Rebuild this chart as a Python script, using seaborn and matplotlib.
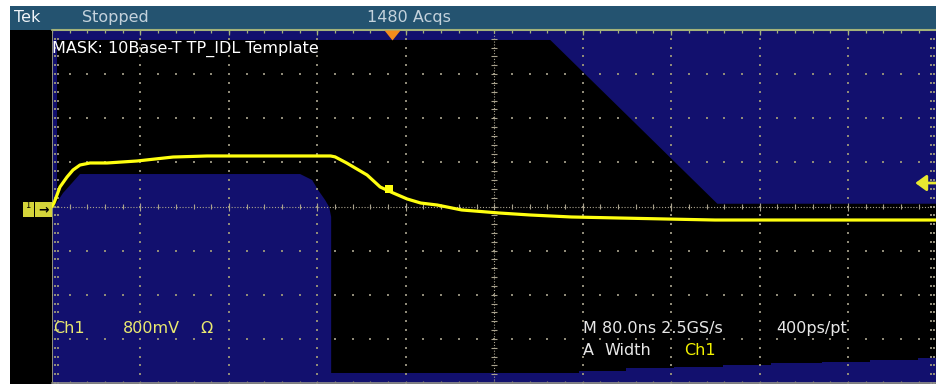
import numpy as np
import matplotlib
matplotlib.use('Agg')
import matplotlib.pyplot as plt
import seaborn as sns
from matplotlib.patches import Rectangle

sns.set_theme(style='dark', rc={'axes.facecolor': 'black', 'figure.facecolor': 'white'})
plt.rcParams['font.family'] = ['DejaVu Sans']

#############################################################
# values
# time in ns from the left edge of the graticule, level in mV
trace_t = [0, 1.8, 4.5, 7.2, 13.6, 19, 25.3, 34.4, 49.8, 76.9, 109.5, 140.3, 252, 256,
           266.5, 285, 296.8, 308.6, 321.3, 333.5, 348.4, 370.6, 404.5, 432.6, 469.7,
           514, 556.3, 599.6, 800]
trace_mv = [0, 63, 208, 354, 535, 662, 752, 789, 789, 825, 897, 916, 916, 900,
            789, 571, 354, 245, 136, 63, 27, -63, -118, -154, -190,
            -209, -227, -245, -245]

# TP_IDL template (mask) outlines
top_mask_t = [0, 800, 800, 601.8, 450.7, 4.5, 4.5, 0]
top_mask_mv = [3200, 3200, 50, 50, 3019, 3019, 110, 40]
low_mask_t = [0, 0, 2.7, 10, 18.1, 25.3, 224.4, 235.3, 240.7, 247, 250.7, 252.5, 252.5]
low_mask_mv = [-3200, 0, 27, 245, 426, 589, 589, 480, 299, 118, -9, -190, -3200]
band_t = [252.5, 477, 519.5, 563, 607, 650.7, 696, 739.5, 783.7, 800]
band_mv = [-3010, -2977, -2933, -2904, -2874, -2843, -2814, -2783, -2752, -2752]

# trigger position / level and the small marker on the edge
trig_t = 307.5
trig_mv = 426
tab_t = [305]
tab_mv = [320]

# screen texts
status = ['Tek', 'Stopped', '1480 Acqs']
mask_title = 'MASK: 10Base-T TP_IDL Template'
ch_readout = ['Ch1', '800mV', '\u03a9']
time_readout = ['M 80.0ns 2.5GS/s', '400ps/pt']
meas_readout = ['A', 'Width', 'Ch1']

ns_per_div = 80
mv_per_div = 800
#############################################################

W, H = 936, 384
fig = plt.figure(figsize=(W / 100, H / 100), dpi=100)

# pixel frame behind the graticule (black screen + title bar)
bg = fig.add_axes([0, 0, 1, 1], zorder=0)
bg.set_xlim(0, W)
bg.set_ylim(H, 0)
bg.axis('off')
bg.add_patch(Rectangle((10, 29), W - 10, H - 29, color='black', lw=0))
bg.add_patch(Rectangle((10, 6), W - 10, 23.5, color='#245370', lw=0))

# graticule axes, 10 x 8 divisions
gx0, gx1, gy0, gy1 = 52, 936.5, 30, 383
ax = fig.add_axes([gx0 / W, 1 - gy1 / H, (gx1 - gx0) / W, (gy1 - gy0) / H], zorder=1)
ax.patch.set_alpha(0)
xmax = ns_per_div * 10
ymax = mv_per_div * 4
ax.set_xlim(0, xmax)
ax.set_ylim(-ymax, ymax)
ax.axis('off')
px_t = xmax / (gx1 - gx0)         # ns per pixel
px_mv = 2 * ymax / (gy1 - gy0)    # mV per pixel

mask_col = '#12106e'
ax.fill(top_mask_t, top_mask_mv, color=mask_col, lw=0, zorder=1)
ax.fill(low_mask_t, low_mask_mv, color=mask_col, lw=0, zorder=1)
ax.fill_between(band_t, -ymax, band_mv, step='post', color=mask_col, lw=0, zorder=1)

# dotted graticule
dot = '#8f8a78'
sub_t = np.arange(0, xmax + 1, ns_per_div / 5)
sub_mv = np.arange(-ymax, ymax + 1, mv_per_div / 5)
div_t = np.arange(ns_per_div, xmax + 1, ns_per_div)
div_t = div_t[div_t != xmax / 2]
div_mv = np.arange(-ymax + mv_per_div, ymax, mv_per_div)
div_mv = div_mv[div_mv != 0]
vx, vy = np.meshgrid(div_t, sub_mv)
ax.scatter(vx.ravel(), vy.ravel(), s=1.6, marker='s', c=dot, linewidths=0, zorder=2)
hx, hy = np.meshgrid(sub_t, div_mv)
ax.scatter(hx.ravel(), hy.ravel(), s=1.6, marker='s', c=dot, linewidths=0, zorder=2)
# border ticks left / right
for tt in [2.5 * px_t, 5.5 * px_t, xmax - 6 * px_t, xmax - 3 * px_t]:
    ax.scatter(np.full(len(sub_mv), tt), sub_mv, s=1.6, marker='s', c=dot,
               linewidths=0, zorder=2)

# centre cross-hair
cen = '#aaa38e'
ax.axhline(0, color=cen, lw=0.8, ls=(0, (1, 1.6)), zorder=2)
ax.axvline(xmax / 2, color=cen, lw=0.8, ls=(0, (1, 1.6)), zorder=2)
ax.vlines(sub_t, -2.5 * px_mv, 2.5 * px_mv, color=cen, lw=0.8, zorder=2)
ax.vlines(div_t, -4 * px_mv, 4 * px_mv, color=cen, lw=0.8, zorder=2)
ax.hlines(sub_mv, xmax / 2 - 3 * px_t, xmax / 2 + 3 * px_t, color=cen, lw=0.8, zorder=2)

# frame
edge = '#a3b27a'
ax.axhline(ymax, color=edge, lw=1.5, clip_on=False, zorder=3)
ax.vlines(sub_t, ymax - 3 * px_mv, ymax, color=edge, lw=0.9, zorder=3)
ax.vlines(div_t, ymax - 5 * px_mv, ymax, color=edge, lw=0.9, zorder=3)
ax.axvline(0, color='#9a9c80', lw=1.3, zorder=3)
ax.axhline(-ymax, color='#8c8c8c', lw=1.3, clip_on=False, zorder=3)
ax.vlines(sub_t, -ymax, -ymax + 2.5 * px_mv, color=dot, lw=0.9, zorder=3)

# waveform
yellow = '#ffff10'
sns.lineplot(x=trace_t, y=trace_mv, ax=ax, color=yellow, lw=2.3, zorder=4, legend=False)
ax.scatter(tab_t, tab_mv, marker='s', s=28, c=yellow, linewidths=0, zorder=5)

# trigger position (top) and level (right)
tri = [(-8, 5), (8, 5), (0, -5)]
ax.plot([trig_t], [1 - 5 / (gy1 - gy0)], transform=ax.get_xaxis_transform(),
        marker=tri, markersize=11.5, color='#f28c1c', mec='none', clip_on=False, zorder=6)
ax.annotate('', xy=(xmax - 24 * px_t, trig_mv), xytext=(xmax + 2, trig_mv),
            arrowprops=dict(arrowstyle='-|>,head_length=0.55,head_width=0.4',
                            color='#e8e830', lw=2), zorder=6, annotation_clip=False)

# overlay for texts and channel marker
fg = fig.add_axes([0, 0, 1, 1], zorder=3)
fg.set_xlim(0, W)
fg.set_ylim(H, 0)
fg.axis('off')
fg.patch.set_alpha(0)

fs = 11.5
fg.text(14, 22, status[0], color='#f0f4f8', fontsize=fs)
fg.text(82, 22, status[1], color='#c4d2dc', fontsize=fs)
fg.text(367, 22, status[2], color='#c4d2dc', fontsize=fs)
fg.text(52, 53, mask_title, color='white', fontsize=fs)

fg.text(53, 333, ch_readout[0], color='#eaea70', fontsize=fs)
fg.text(123, 333, ch_readout[1], color='#eaea70', fontsize=fs)
fg.text(200, 333, ch_readout[2], color='#eaea70', fontsize=fs)
fg.text(583, 333, time_readout[0], color='#e8e8e8', fontsize=fs)
fg.text(776, 333, time_readout[1], color='#e8e8e8', fontsize=fs)
fg.text(583, 355, meas_readout[0], color='#e8e8e8', fontsize=fs)
fg.text(604, 355, meas_readout[1], color='#e8e8e8', fontsize=fs)
fg.text(684, 355, meas_readout[2], color='#f2f200', fontsize=fs)

# channel 1 ground marker
fg.add_patch(Rectangle((23, 202), 10.5, 15, color='#d4d43a', lw=0))
fg.add_patch(Rectangle((35, 202), 17, 15, color='#d4d43a', lw=0))
fg.text(28, 206, '1', color='black', fontsize=6, ha='center', va='center')
fg.text(43.5, 210, '\u2192', color='black', fontsize=9, ha='center', va='center',
        fontweight='bold')

fig.savefig('out.png', dpi=100, facecolor='white')
